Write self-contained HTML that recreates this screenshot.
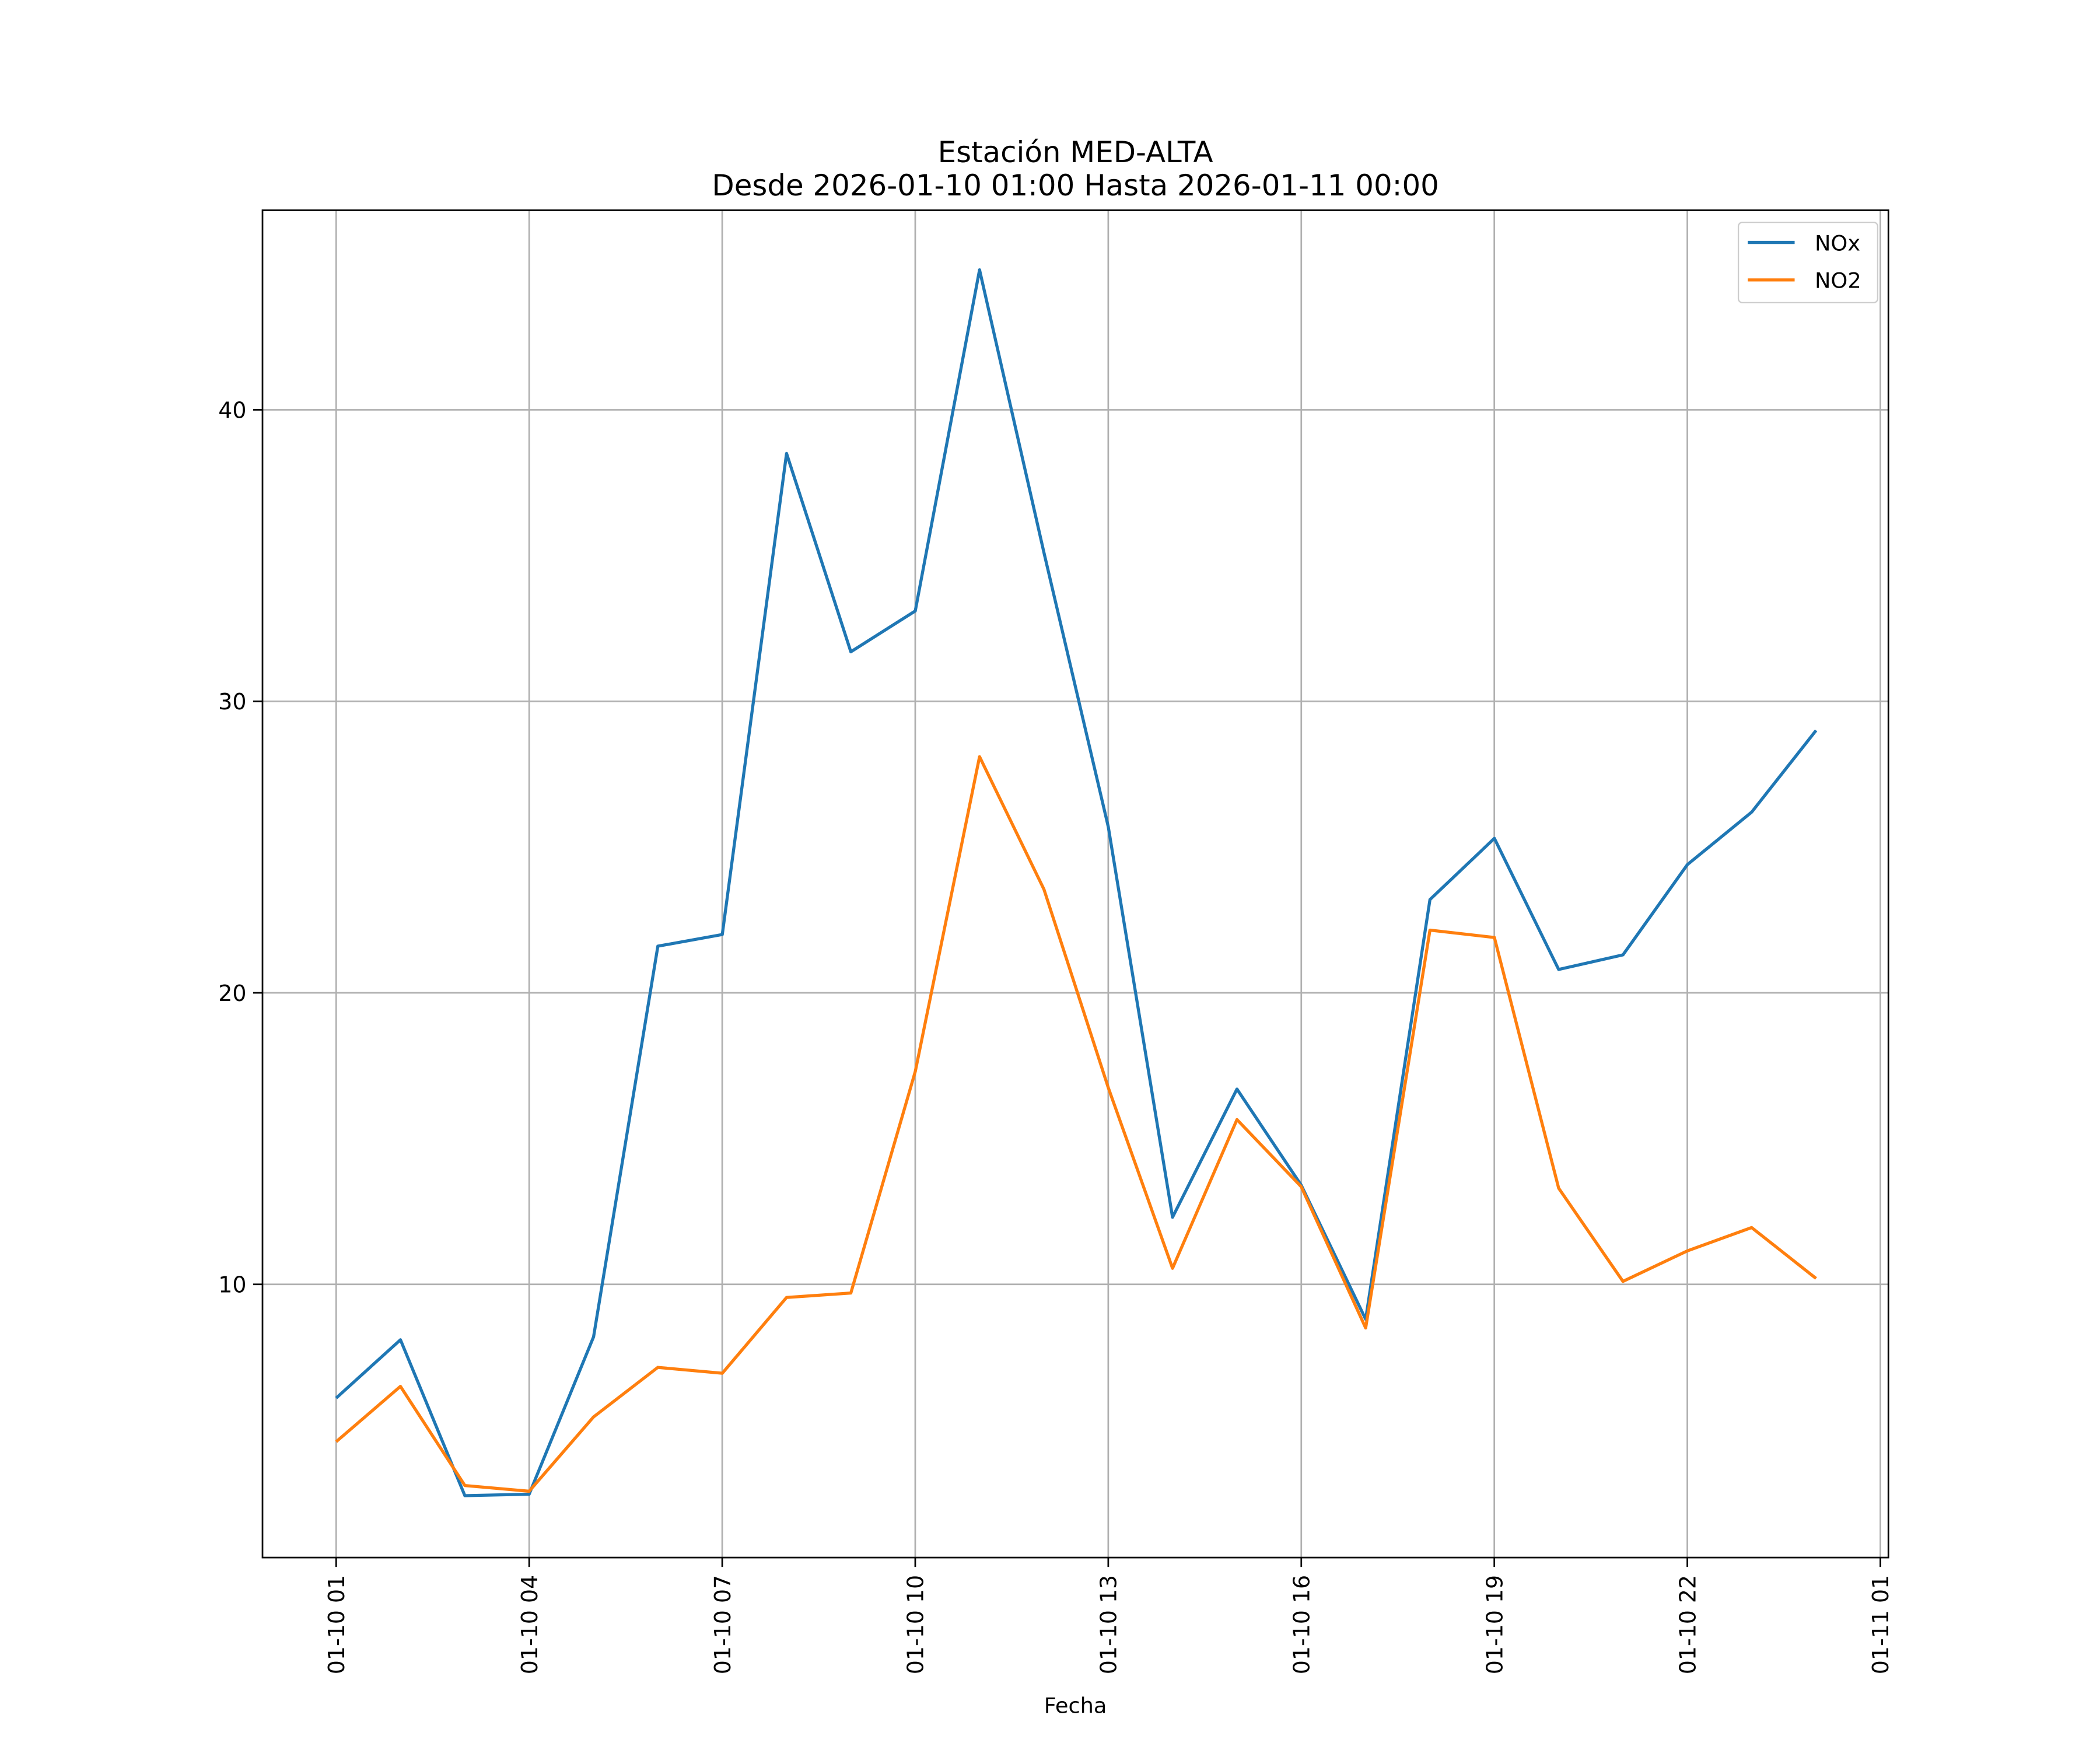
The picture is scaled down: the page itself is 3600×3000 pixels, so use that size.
<!DOCTYPE html>
<html><head><meta charset="utf-8"><style>html,body{margin:0;padding:0;background:#fff}svg{display:block}text{font-family:"DejaVu Sans","Liberation Sans",sans-serif;fill:#000}</style></head>
<body>
<svg id="chart" width="3600" height="3000" viewBox="0 0 1568 1306.7" preserveAspectRatio="none" xmlns="http://www.w3.org/2000/svg">
<rect width="1568" height="1307" fill="#fff"/>
<text x="803" y="121" font-size="21.7" text-anchor="middle">Estación MED-ALTA</text>
<text x="803" y="146" font-size="21.7" text-anchor="middle">Desde 2026-01-10 01:00 Hasta 2026-01-11 00:00</text>
<g id="grid"></g>
<g id="series"></g>
<rect x="196" y="157" width="1214" height="1006" fill="none" stroke="#000" stroke-width="1.2"/>
<g id="axes"></g>
<text x="803" y="1279" font-size="16" text-anchor="middle">Fecha</text>
<g>
<rect x="1298" y="166" width="104" height="60" rx="3" fill="#fff" stroke="#ccc" stroke-width="1"/>
<line x1="1305" y1="181" x2="1340" y2="181" stroke="#1f77b4" stroke-width="2.3"/>
<text x="1355" y="187" font-size="16">NOx</text>
<line x1="1305" y1="209" x2="1340" y2="209" stroke="#ff7f0e" stroke-width="2.3"/>
<text x="1355" y="215" font-size="16">NO2</text>
</g>
</svg>
<script>
const hours = [1,2,3,4,5,6,7,8,9,10,11,12,13,14,15,16,17,18,19,20,21,22,23,24];
const noxValues = [6.1,8.1,2.75,2.8,8.2,21.6,22.0,38.5,31.7,33.1,44.8,35.1,25.7,12.3,16.7,13.4,8.8,23.2,25.3,20.8,21.3,24.4,26.2,29.0];
const no2Values = [4.6,6.5,3.1,2.9,5.45,7.15,6.95,9.55,9.7,17.3,28.1,23.55,16.75,10.55,15.65,13.35,8.5,22.15,21.9,13.3,10.1,11.15,11.95,10.2];
const xTickHours = [1,4,7,10,13,16,19,22,25];
const xTickLabels = ["01-10 01","01-10 04","01-10 07","01-10 10","01-10 13","01-10 16","01-10 19","01-10 22","01-11 01"];
const yTicks = [10,20,30,40];

const NS="http://www.w3.org/2000/svg";
function xs(h){return 251+(h-1)*(1153/24);}
function ys(v){return 959-(v-10)*(653/30);}
function mk(tag,attrs,parent){const e=document.createElementNS(NS,tag);for(const k in attrs)e.setAttribute(k,attrs[k]);parent.appendChild(e);return e;}
const grid=document.getElementById('grid'),axes=document.getElementById('axes'),series=document.getElementById('series');
xTickHours.forEach((h,i)=>{
  const x=xs(h);
  const g=mk('line',{x1:x,x2:x,y1:157,y2:1163,stroke:'#b0b0b0','stroke-width':1.2},grid);
  
  
  const t=mk('line',{x1:x,x2:x,y1:1163,y2:1170,stroke:'#000','stroke-width':1.2},axes);
  
  
  const l=mk('text',{x:0,y:0,'font-size':16.5,'text-anchor':'end',transform:`translate(${x+6},1176) rotate(-90)`},axes);
  l.textContent=xTickLabels[i];
  
  
});
yTicks.forEach(v=>{
  const y=ys(v);
  const g=mk('line',{x1:196,x2:1410,y1:y,y2:y,stroke:'#b0b0b0','stroke-width':1.2},grid);
  
  
  const t=mk('line',{x1:189,x2:196,y1:y,y2:y,stroke:'#000','stroke-width':1.2},axes);
  
  
  const l=mk('text',{x:184,y:y+6,'font-size':16.5,'text-anchor':'end'},axes);
  l.textContent=String(v);
  
  
});
function pts(vals){return vals.map((v,i)=>xs(hours[i]).toFixed(1)+','+ys(v).toFixed(1)).join(' ');}
const p1=mk('polyline',{points:pts(noxValues),fill:'none',stroke:'#1f77b4','stroke-width':2.3,'stroke-linejoin':'round'},series);


const p2=mk('polyline',{points:pts(no2Values),fill:'none',stroke:'#ff7f0e','stroke-width':2.3,'stroke-linejoin':'round'},series);


</script>
</body></html>
